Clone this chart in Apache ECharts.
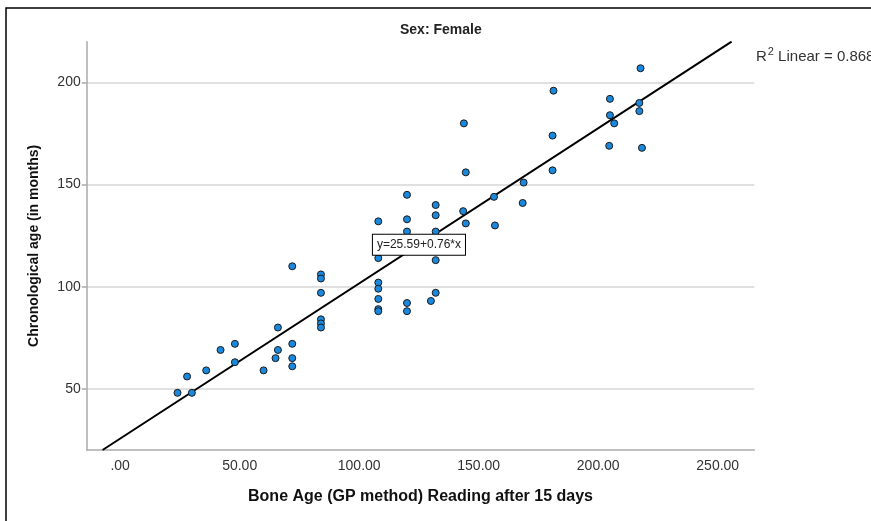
<!DOCTYPE html>
<html>
<head>
<meta charset="utf-8">
<script src="https://cdn.jsdelivr.net/npm/echarts@6/dist/echarts.min.js"></script>
<style>
html,body{margin:0;padding:0;background:#fff;}
#chart{width:871px;height:521px;}
</style>
</head>
<body>
<div id="chart"></div>
<script>
// Data
const boneAge = [24, 30, 28, 36, 42, 48, 48, 60, 65, 66, 66, 72, 72, 72, 72,
  84, 84, 84, 84, 84, 84,
  108, 108, 108, 108, 108, 108, 108,
  120, 120, 120, 120, 120,
  130,
  132, 132, 132, 132, 132,
  143.5, 143.8, 144.6, 144.6,
  156.4, 156.8,
  168.4, 168.8,
  180.9, 180.9, 181.3,
  204.9, 204.9, 206.7, 204.6,
  217.7, 217.2, 217.2, 218.3];
const chronoAge = [48, 48, 56, 59, 69, 72, 63, 59, 65, 69, 80, 72, 65, 61, 110,
  106, 104, 97, 84, 82, 80,
  132, 114, 102, 99, 94, 89, 88,
  145, 133, 127, 92, 88,
  93,
  140, 135, 127, 113, 97,
  137, 180, 131, 156,
  144, 130,
  141, 151,
  174, 157, 196,
  192, 184, 180, 169,
  207, 190, 186, 168];
const xTicks = [0, 50, 100, 150, 200, 250];
const yTicks = [50, 100, 150, 200];
const xRange = [-14, 265.3];
const yRange = [20, 220];
const fitIntercept = 25.59;
const fitSlope = 0.76;
const rSquared = 0.868;
const labelAtX = 125;

const points = boneAge.map((x, i) => [x, chronoAge[i]]);
const fitLine = yRange.map(y => [(y - fitIntercept) / fitSlope, y]);

const chart = echarts.init(document.getElementById('chart'), null, {renderer: 'canvas'});
const FONT = '"Liberation Sans", Arial, sans-serif';
chart.setOption({
  backgroundColor: '#ffffff',
  animation: false,
  title: [
    {
      text: 'Sex: Female', left: 400, top: 23, padding: 0,
      textStyle: {fontFamily: FONT, fontSize: 14, fontWeight: 'bold', color: '#222'}
    },
    {
      text: '{r|R}{s|2}{r| Linear = ' + rSquared.toFixed(3) + '}', left: 756, top: 46, padding: 0,
      textStyle: {
        fontWeight: 'normal',
        rich: {
          r: {fontFamily: FONT, fontSize: 15, fontWeight: 'normal', color: '#333', verticalAlign: 'bottom', lineHeight: 18},
          s: {fontFamily: FONT, fontSize: 11, fontWeight: 'normal', color: '#333', verticalAlign: 'top', lineHeight: 18, padding: [0, 0, 6, 1]}
        }
      }
    }
  ],
  graphic: [
    {type: 'rect', shape: {x: 6, y: 8, width: 1000, height: 1000},
     style: {fill: 'none', stroke: '#000', lineWidth: 1.5}, silent: true}
  ],
  grid: {left: 86.7, right: 116.7, top: 41.7, bottom: 71, containLabel: false},
  xAxis: {
    type: 'value', min: xRange[0], max: xRange[1],
    name: 'Bone Age (GP method) Reading after 15 days',
    nameLocation: 'middle', nameGap: 39,
    nameTextStyle: {fontFamily: FONT, fontSize: 16, fontWeight: 'bold', color: '#111'},
    axisLine: {show: true, onZero: false, lineStyle: {color: '#aaaaaa', width: 1.5}},
    axisTick: {show: false, customValues: xTicks},
    axisLabel: {
      customValues: xTicks, margin: 9,
      fontFamily: FONT, fontSize: 14, color: '#333',
      formatter: v => v === 0 ? '.00' : v.toFixed(2)
    },
    splitLine: {show: false}
  },
  yAxis: {
    type: 'value', min: yRange[0], max: yRange[1],
    name: 'Chronological age (in months)',
    nameLocation: 'middle', nameGap: 46, nameRotate: 90,
    nameTextStyle: {fontFamily: FONT, fontSize: 14, fontWeight: 'bold', color: '#111'},
    axisLine: {show: true, onZero: false, lineStyle: {color: '#aaaaaa', width: 1.5}},
    axisTick: {show: true, length: 5, customValues: yTicks, lineStyle: {color: '#aaaaaa', width: 1.5}},
    axisLabel: {customValues: yTicks, margin: 6, fontFamily: FONT, fontSize: 14, color: '#333'},
    splitLine: {show: true, lineStyle: {color: '#d6d6d6', width: 1.5}}
  },
  series: [
    {
      type: 'line', data: fitLine, symbol: 'none', clip: true,
      lineStyle: {color: '#000', width: 2}, z: 2,
      markPoint: {
        symbol: 'rect', symbolSize: 0,
        data: [{coord: [labelAtX, fitIntercept + fitSlope * labelAtX]}],
        label: {
          show: true, position: 'inside',
          formatter: 'y=' + fitIntercept.toFixed(2) + '+' + fitSlope.toFixed(2) + '*x',
          fontFamily: FONT, fontSize: 12, color: '#222',
          backgroundColor: '#fff', borderColor: '#000', borderWidth: 1, padding: [4, 4, 4, 4]
        },
        z: 10
      }
    },
    {
      type: 'scatter', data: points, symbol: 'circle', symbolSize: 7, z: 3,
      itemStyle: {color: '#1a88dc', borderColor: '#1a1a1a', borderWidth: 1, opacity: 1}
    }
  ]
});
</script>
</body>
</html>
